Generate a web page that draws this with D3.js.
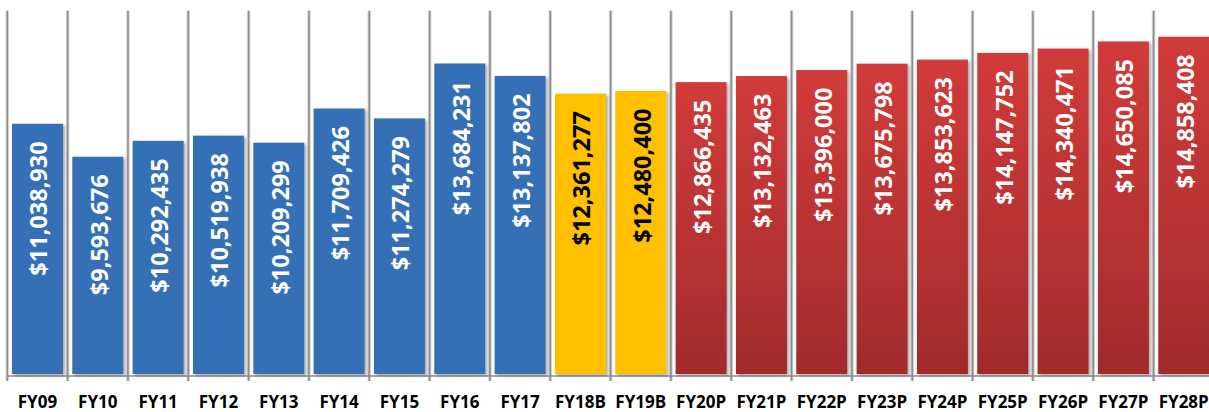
<!DOCTYPE html>
<html>
<head>
<meta charset="utf-8">
<script src="https://cdn.jsdelivr.net/npm/d3@7"></script>
<style>
  html, body { margin: 0; padding: 0; background: #fff; }
  svg { display: block; }
  text { font-family: "Open Sans", "DejaVu Sans", sans-serif; font-weight: 700; }
</style>
</head>
<body>
<svg id="chart" width="1209" height="412"></svg>
<script>
// Annual budget, actuals (FY09-FY17), budgeted (B) and projected (P)
const categories = ["FY09","FY10","FY11","FY12","FY13","FY14","FY15","FY16","FY17",
  "FY18B","FY19B","FY20P","FY21P","FY22P","FY23P","FY24P","FY25P","FY26P","FY27P","FY28P"];
const values = [11038930, 9593676, 10292435, 10519938, 10209299, 11709426, 11274279, 13684231, 13137802,
  12361277, 12480400, 12866435, 13132463, 13396000, 13675798, 13853623, 14147752, 14340471, 14650085, 14858408];
const kinds = ["actual","actual","actual","actual","actual","actual","actual","actual","actual",
  "budget","budget","projected","projected","projected","projected","projected","projected","projected","projected","projected"];
const yDomain = [0, 16000000];

const svg = d3.select("#chart");
const plotLeft = 7.3, step = 60.33;
const plotTop = 10.7, plotBase = 375.5;

const x = d3.scaleBand()
  .domain(categories)
  .range([plotLeft, plotLeft + step * categories.length])
  .paddingInner(0.155)
  .paddingOuter(0.0775);
const y = d3.scaleLinear().domain(yDomain).range([plotBase, plotTop]);

const defs = svg.append("defs");
const grad = defs.append("linearGradient").attr("id", "redGrad")
  .attr("x1", 0).attr("y1", 0).attr("x2", 0).attr("y2", 1);
grad.append("stop").attr("offset", "0%").attr("stop-color", "#d13b3a");
grad.append("stop").attr("offset", "100%").attr("stop-color", "#a22b2c");

const shadow = defs.append("filter").attr("id", "shadow")
  .attr("x", "-20%").attr("y", "-10%").attr("width", "140%").attr("height", "120%");
shadow.append("feDropShadow").attr("dx", 2).attr("dy", 1.5).attr("stdDeviation", 1.6)
  .attr("flood-color", "#000").attr("flood-opacity", 0.35);

const fill = { actual: "#3670b6", budget: "#ffc000", projected: "url(#redGrad)" };
const textFill = { actual: "#ffffff", budget: "#000000", projected: "#ffffff" };

// vertical separators at category boundaries
const bounds = d3.range(categories.length).map(i => plotLeft + i * step);
const grid = svg.append("g");
grid.selectAll("line.halo").data(bounds).join("line")
  .attr("class", "halo")
  .attr("x1", d => d).attr("x2", d => d)
  .attr("y1", plotTop).attr("y2", plotBase + 5.5)
  .attr("stroke", "#d4d4d4").attr("stroke-width", 3.5);
grid.selectAll("line.core").data(bounds).join("line")
  .attr("class", "core")
  .attr("x1", d => d).attr("x2", d => d)
  .attr("y1", plotTop).attr("y2", plotBase + 5.5)
  .attr("stroke", "#8c8c8c").attr("stroke-width", 1.5);

// baseline
svg.append("line")
  .attr("x1", plotLeft).attr("x2", 1209)
  .attr("y1", plotBase + 0.5).attr("y2", plotBase + 0.5)
  .attr("stroke", "#8c8c8c").attr("stroke-width", 1.5);

const data = categories.map((c, i) => ({ c, v: values[i], k: kinds[i] }));

svg.append("g").selectAll("rect").data(data).join("rect")
  .attr("x", d => x(d.c))
  .attr("width", x.bandwidth())
  .attr("y", d => y(d.v))
  .attr("height", d => y(0) - y(d.v) - 1.5)
  .attr("fill", d => fill[d.k])
  .attr("filter", "url(#shadow)");

// value labels, rotated, near the top of each bar
const fmt = d3.format("$,.0f");
svg.append("g").selectAll("text").data(data).join("text")
  .attr("transform", d => `translate(${x(d.c) + x.bandwidth() / 2 + 1},${y(d.v) + 17.5}) rotate(-90)`)
  .attr("text-anchor", "end")
  .attr("dominant-baseline", "central")
  .attr("font-size", 23.5)
  .attr("fill", d => textFill[d.k])
  .text(d => fmt(d.v));

// category axis labels
const xAxis = d3.axisBottom(x).tickSize(0).tickPadding(0);
const ax = svg.append("g").attr("transform", `translate(0,${407.5})`).call(xAxis);
ax.select(".domain").remove();
ax.selectAll("text")
  .attr("dy", 0)
  .attr("y", 0)
  .attr("font-size", 17)
  .attr("fill", "#000")
  .style("font-family", "'Open Sans', sans-serif")
  .style("font-weight", 700);
</script>
</body>
</html>
